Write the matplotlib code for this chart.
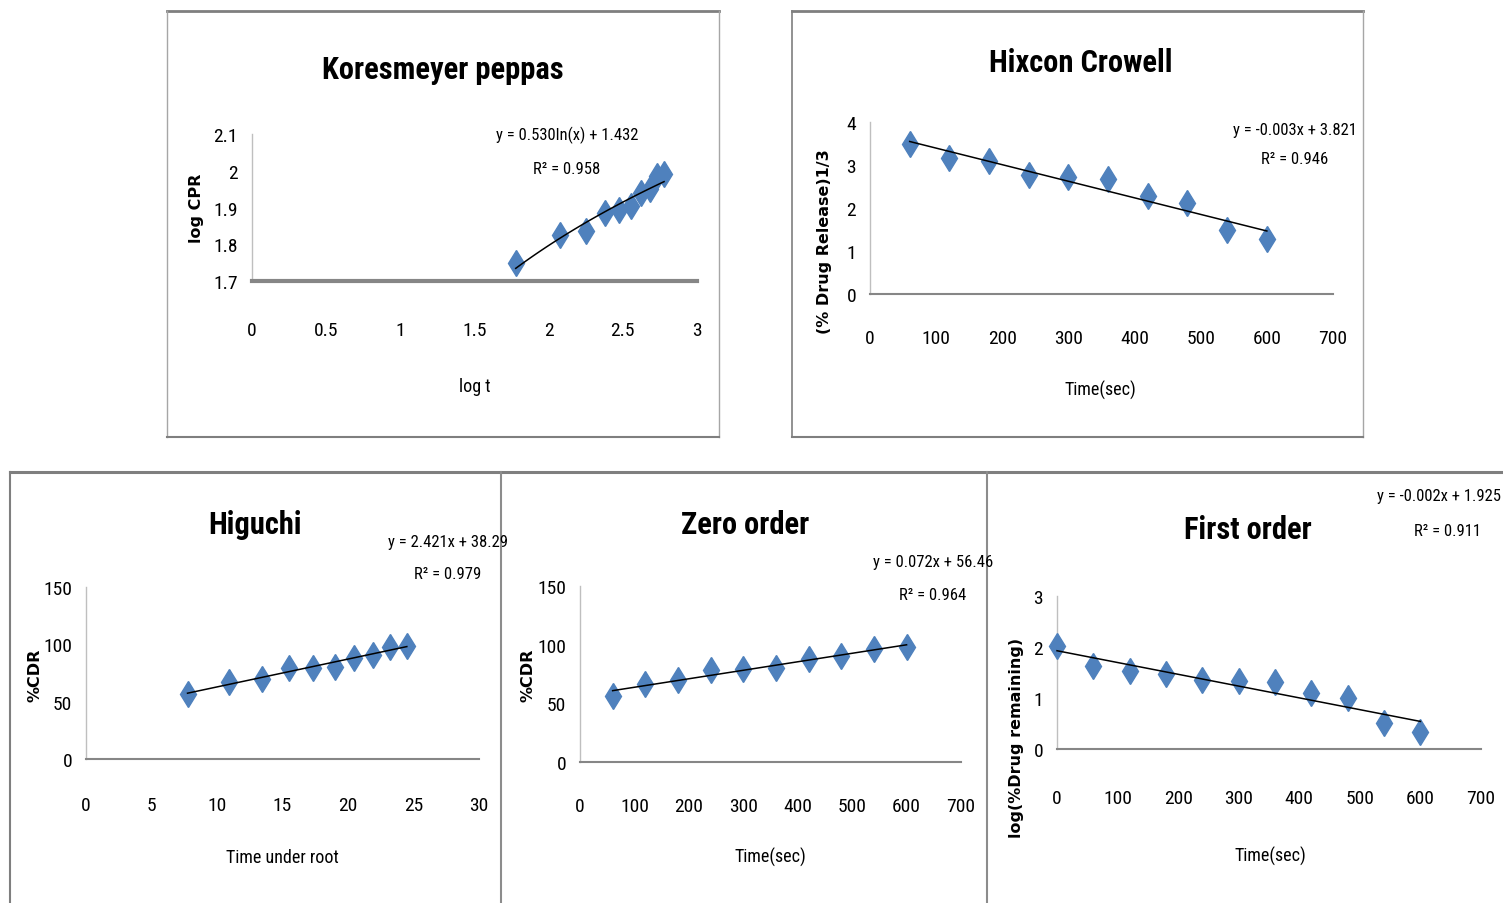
import numpy as np
import matplotlib
matplotlib.use("Agg")
import matplotlib.pyplot as plt
from matplotlib import font_manager
from matplotlib.font_manager import FontProperties
from matplotlib.lines import Line2D

# ---------------- data ----------------
kp_logt = [1.778, 2.079, 2.255, 2.380, 2.477, 2.556, 2.623, 2.681, 2.732, 2.778]
kp_logcpr = [1.750, 1.824, 1.836, 1.886, 1.892, 1.904, 1.940, 1.951, 1.987, 1.990]

hc_time = [60, 120, 180, 240, 300, 360, 420, 480, 540, 600]
hc_cuberoot = [3.49, 3.17, 3.09, 2.76, 2.73, 2.67, 2.28, 2.12, 1.48, 1.27]

hg_sqrt_t = [7.75, 10.95, 13.42, 15.49, 17.32, 18.97, 20.49, 21.91, 23.24, 24.49]
hg_cdr = [57.0, 66.8, 70.0, 79.5, 79.0, 80.5, 88.5, 91.0, 97.5, 98.5]

zo_time = [60, 120, 180, 240, 300, 360, 420, 480, 540, 600]
zo_cdr = [56.5, 66.5, 69.5, 78.5, 79.5, 80.5, 87.5, 90.5, 96.5, 98.0]

fo_time = [0, 60, 120, 180, 240, 300, 360, 420, 480, 540, 600]
fo_logrem = [2.02, 1.62, 1.52, 1.48, 1.35, 1.33, 1.31, 1.10, 1.00, 0.51, 0.33]

kp_eq = ["y = 0.530ln(x) + 1.432", "R\u00b2 = 0.958"]
hc_eq = ["y = -0.003x + 3.821", "R\u00b2 = 0.946"]
hg_eq = ["y = 2.421x + 38.29", "R\u00b2 = 0.979"]
zo_eq = ["y = 0.072x + 56.46", "R\u00b2 = 0.964"]
fo_eq = ["y = -0.002x + 1.925", "R\u00b2 = 0.911"]

# ---------------- fonts: look for a narrow / condensed face ----------------
def find_face(bold):
    prefs = ["Liberation Sans Narrow", "Roboto Condensed", "DejaVu Sans Condensed",
             "Open Sans Condensed", "Noto Sans Condensed", "Lato"]
    cands = []
    for f in font_manager.fontManager.ttflist:
        nm = f.name
        fn = f.fname.lower()
        if f.style != "normal":
            continue
        w = f.weight if isinstance(f.weight, int) else (700 if "bold" in str(f.weight) else 400)
        isbold = w >= 600
        if isbold != bold:
            continue
        narrow = ("narrow" in nm.lower() or "condensed" in nm.lower()
                  or "condensed" in str(f.stretch) or "narrow" in fn or "condensed" in fn)
        if not narrow:
            continue
        if "semi" in fn or "extra" in fn or "light" in fn or "black" in fn or "medium" in fn or "thin" in fn:
            continue
        rank = 99
        for i, p in enumerate(prefs):
            if p.lower().split()[0] in nm.lower() or p.lower().replace(" ", "") in fn.replace("-", ""):
                rank = i
                break
        cands.append((rank, f.fname))
    if cands:
        cands.sort()
        return FontProperties(fname=cands[0][1]), True
    return FontProperties(family="Roboto", weight="bold" if bold else "normal"), False


FP_REG, HAVE_NARROW = find_face(False)
FP_BOLD, HAVE_NARROW_B = find_face(True)
NS = 1.0 if HAVE_NARROW else 0.85
NSB = 1.0 if HAVE_NARROW_B else 0.85

W, H = 1503, 904
fig = plt.figure(figsize=(W / 100, H / 100), dpi=100)
fig.patch.set_facecolor("white")

BLUE = "#4F81BD"


def fx(px):
    return px / W


def fy(py):
    return 1 - py / H


def ftext(x, y, s, size, fp=None, rot=0, ha="center", va="center"):
    if fp is None:
        fp = FP_REG
    p = fp.copy()
    p.set_size(size)
    fig.text(fx(x), fy(y), s, fontproperties=p, rotation=rot, ha=ha, va=va)


def btext(x, y, s, size, rot=90):
    fig.text(fx(x), fy(y), s, fontsize=size, fontweight="bold", family="DejaVu Sans",
             rotation=rot, ha="center", va="center")


def border_line(x0, y0, x1, y1, color="#8C8C8C", lw=1.2):
    fig.add_artist(Line2D([fx(x0), fx(x1)], [fy(y0), fy(y1)], color=color, lw=lw,
                          transform=fig.transFigure))


def make_axes(x0, x1, y_top, y_bot, xlim, ylim, xticks, yticks, xtl, ytl,
              xpad, ypad, bottom_lw=1.5):
    ax = fig.add_axes([fx(x0), fy(y_bot), (x1 - x0) / W, (y_bot - y_top) / H])
    ax.set_xlim(*xlim)
    ax.set_ylim(*ylim)
    ax.set_xticks(xticks)
    ax.set_yticks(yticks)
    tp = FP_REG.copy()
    tp.set_size(14 * NS)
    ax.set_xticklabels(xtl, fontproperties=tp)
    ax.set_yticklabels(ytl, fontproperties=tp)
    ax.tick_params(axis="both", length=0)
    ax.tick_params(axis="x", pad=xpad)
    ax.tick_params(axis="y", pad=ypad)
    for s in ("top", "right"):
        ax.spines[s].set_visible(False)
    ax.spines["left"].set_color("#BFBFBF")
    ax.spines["left"].set_linewidth(1.0)
    ax.spines["bottom"].set_color("#868686")
    ax.spines["bottom"].set_linewidth(bottom_lw)
    ax.patch.set_alpha(0)
    return ax


def scatter_fit(ax, x, y, logfit=False):
    x = np.asarray(x, float)
    y = np.asarray(y, float)
    xs = np.linspace(x.min(), x.max(), 100)
    if logfit:
        a, b = np.polyfit(np.log(x), y, 1)
        ys = a * np.log(xs) + b
    else:
        a, b = np.polyfit(x, y, 1)
        ys = a * xs + b
    ax.plot(x, y, linestyle="none", marker="d", markersize=13.5, color=BLUE,
            markeredgecolor=BLUE, zorder=3, clip_on=False)
    ax.plot(xs, ys, color="black", lw=1.1, zorder=4, clip_on=False)


# ---------------- panel borders ----------------
border_line(167, 12, 719, 12, "#7F7F7F", 2.0)
border_line(167, 12, 167, 438, "#A6A6A6", 1.0)
border_line(719, 12, 719, 438, "#A6A6A6", 1.0)
border_line(167, 438, 719, 438, "#7F7F7F", 1.5)
border_line(792, 12, 1363, 12, "#7F7F7F", 2.0)
border_line(792, 12, 792, 438, "#7F7F7F", 1.2)
border_line(1363, 12, 1363, 438, "#A6A6A6", 1.0)
border_line(792, 438, 1363, 438, "#7F7F7F", 1.5)
border_line(10, 473, 1503, 473, "#7F7F7F", 2.2)
border_line(10, 473, 10, 904, "#7F7F7F", 1.5)
border_line(501, 473, 501, 904, "#8C8C8C", 1.5)
border_line(987, 473, 987, 904, "#8C8C8C", 1.5)

TS = 22 * NSB   # titles
LS = 13 * NS    # x labels
ES = 12 * NS    # equations
YS = 11.5       # y labels

# ---------------- Korsmeyer-Peppas ----------------
ax1 = make_axes(252, 697, 135, 282, (0, 3), (1.7, 2.1),
                [0, 0.5, 1, 1.5, 2, 2.5, 3], [1.7, 1.8, 1.9, 2.0, 2.1],
                ["0", "0.5", "1", "1.5", "2", "2.5", "3"], ["1.7", "1.8", "1.9", "2", "2.1"],
                xpad=28.5, ypad=10, bottom_lw=3.0)
scatter_fit(ax1, kp_logt, kp_logcpr, logfit=True)
ftext(443, 70, "Koresmeyer peppas", TS, FP_BOLD)
ftext(475, 387, "log t", LS)
btext(197, 208, "log CPR", YS)
ftext(567, 135, kp_eq[0], ES)
ftext(567, 170, kp_eq[1], ES)

# ---------------- Hixson Crowell ----------------
ax2 = make_axes(870, 1333, 123, 295, (0, 700), (0, 4),
                [0, 100, 200, 300, 400, 500, 600, 700], [0, 1, 2, 3, 4],
                ["0", "100", "200", "300", "400", "500", "600", "700"],
                ["0", "1", "2", "3", "4"], xpad=25.5, ypad=10)
scatter_fit(ax2, hc_time, hc_cuberoot)
ftext(1081, 63, "Hixcon Crowell", TS, FP_BOLD)
ftext(1100, 390, "Time(sec)", LS)
btext(825, 242, "(% Drug Release)1/3", YS)
ftext(1295, 130, hc_eq[0], ES)
ftext(1295, 160, hc_eq[1], ES)

# ---------------- Higuchi ----------------
ax3 = make_axes(86, 479, 588, 760, (0, 30), (0, 150),
                [0, 5, 10, 15, 20, 25, 30], [0, 50, 100, 150],
                ["0", "5", "10", "15", "20", "25", "30"], ["0", "50", "100", "150"],
                xpad=26.5, ypad=10)
scatter_fit(ax3, hg_sqrt_t, hg_cdr)
ftext(255, 525, "Higuchi", TS, FP_BOLD)
ftext(282, 858, "Time under root", LS)
btext(35, 675, "%CDR", YS)
ftext(448, 542, hg_eq[0], ES)
ftext(448, 575, hg_eq[1], ES)

# ---------------- Zero order ----------------
ax4 = make_axes(580, 961, 587, 763, (0, 700), (0, 150),
                [0, 100, 200, 300, 400, 500, 600, 700], [0, 50, 100, 150],
                ["0", "100", "200", "300", "400", "500", "600", "700"],
                ["0", "50", "100", "150"], xpad=25.5, ypad=10)
scatter_fit(ax4, zo_time, zo_cdr)
ftext(745, 525, "Zero order", TS, FP_BOLD)
ftext(770, 857, "Time(sec)", LS)
btext(528, 675, "%CDR", YS)
ftext(933, 563, zo_eq[0], ES)
ftext(933, 596, zo_eq[1], ES)

# ---------------- First order ----------------
ax5 = make_axes(1057, 1481, 597, 750, (0, 700), (0, 3),
                [0, 100, 200, 300, 400, 500, 600, 700], [0, 1, 2, 3],
                ["0", "100", "200", "300", "400", "500", "600", "700"],
                ["0", "1", "2", "3"], xpad=28.5, ypad=10)
scatter_fit(ax5, fo_time, fo_logrem)
ftext(1248, 530, "First order", TS, FP_BOLD)
ftext(1270, 856, "Time(sec)", LS)
btext(1017, 738, "log(%Drug remaining)", YS)
ftext(1501, 497, fo_eq[0], ES, ha="right")
ftext(1447, 531, fo_eq[1], ES)

fig.savefig("out.png", dpi=100, facecolor="white")
